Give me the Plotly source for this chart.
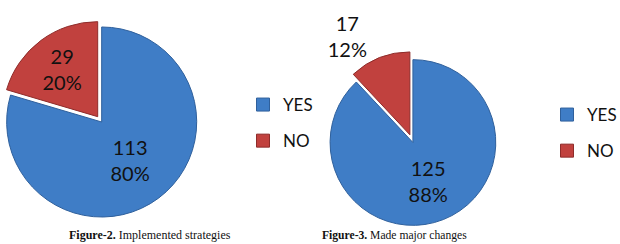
import plotly.graph_objects as go

labels = ["YES", "NO"]
fig2_values = [113, 29]
fig3_values = [125, 17]
captions = ["<b>Figure-2.</b> Implemented strategies", "<b>Figure-3.</b> Made major changes"]
colors = ["#3F7DC6", "#C1413E"]
line_colors = ["#2F609C", "#8E2C2A"]

fig = go.Figure()

fig.add_trace(go.Pie(
    labels=labels, values=fig2_values, sort=False, direction="clockwise", rotation=0,
    pull=[0, 0.07],
    marker=dict(colors=colors, line=dict(color=line_colors, width=1)),
    texttemplate="%{value}<br>%{percent:.0%}", textposition="inside",
    insidetextorientation="horizontal",
    textfont=dict(family="Lato", size=20, color="#111111"),
    domain=dict(x=[0, 0.328], y=[0, 1]),
    showlegend=False, hoverinfo="skip",
))

fig.add_trace(go.Pie(
    labels=labels, values=fig3_values, sort=False, direction="clockwise", rotation=0,
    pull=[0, 0.1],
    marker=dict(colors=colors, line=dict(color=line_colors, width=1)),
    texttemplate="%{value}<br>%{percent:.0%}", textposition=["inside", "outside"],
    insidetextorientation="horizontal",
    textfont=dict(family="Lato", size=20, color="#111111"),
    domain=dict(x=[0.519, 0.813], y=[0.042, 0.790]),
    showlegend=False, hoverinfo="skip",
))

# legend entries
for legname in ["legend", "legend2"]:
    for lab, col, lc in zip(labels, colors, line_colors):
        fig.add_trace(go.Scatter(
            x=[None], y=[None], mode="markers", name=lab,
            marker=dict(symbol="square", size=13, color=col, line=dict(color=lc, width=1)),
            legend=legname, legendgroup=legname + lab,
        ))

legend_common = dict(font=dict(family="Lato", size=17, color="#111111"),
                     tracegroupgap=11, bgcolor="rgba(0,0,0,0)", itemwidth=30,
                     xanchor="left", yanchor="middle")

fig.update_layout(
    width=620, height=244,
    margin=dict(l=0, r=0, t=0, b=0, autoexpand=False),
    paper_bgcolor="white", plot_bgcolor="white",
    xaxis=dict(visible=False), yaxis=dict(visible=False),
    legend=dict(x=243 / 620, y=1 - 123 / 244, **legend_common),
    legend2=dict(x=547 / 620, y=1 - 133 / 244, **legend_common),
    annotations=[
        dict(text=captions[0], x=149.5 / 620, y=1 - 235 / 244, xref="paper", yref="paper",
             xanchor="center", yanchor="middle", showarrow=False,
             font=dict(family="Liberation Serif", size=12, color="#111111")),
        dict(text=captions[1], x=394 / 620, y=1 - 235 / 244, xref="paper", yref="paper",
             xanchor="center", yanchor="middle", showarrow=False,
             font=dict(family="Liberation Serif", size=11.6, color="#111111")),
    ],
)

fig.write_html("out.html")
